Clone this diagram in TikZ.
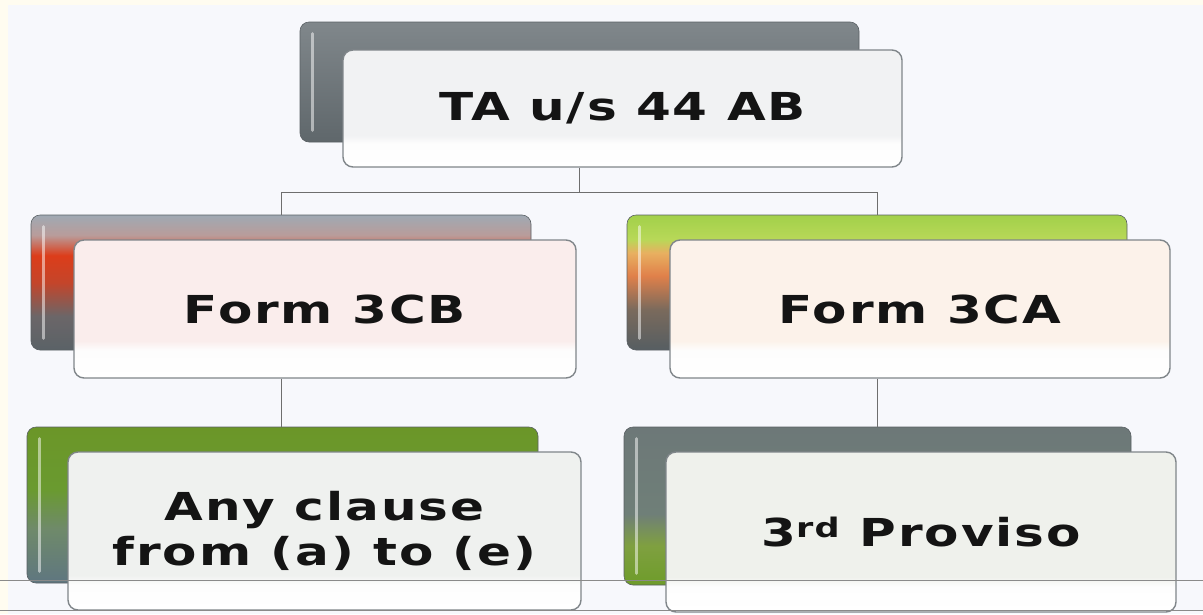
\documentclass[tikz,border=0pt]{standalone}
\usepackage{fontspec}
\newfontfamily\lblfont{DejaVu Sans}[FakeStretch=1.3, LetterSpace=5]

% page and line colours
\definecolor{cream}{HTML}{FFFCF0}
\definecolor{slide}{HTML}{F7F8FC}
\definecolor{linkgray}{HTML}{6E6E6E}
\definecolor{rulegray}{HTML}{8A8A8A}
\definecolor{frontedge}{HTML}{80868A}
\definecolor{backedge}{HTML}{5A6064}
\definecolor{inkc}{HTML}{141414}

% back panel colours
\definecolor{taB0}{HTML}{5F676B}
\definecolor{taB1}{HTML}{80878B}
\definecolor{cbB0}{HTML}{5A6267}
\definecolor{cbB1}{HTML}{6B6668}
\definecolor{cbB2}{HTML}{C4452A}
\definecolor{cbB3}{HTML}{DC3D1A}
\definecolor{cbB4}{HTML}{B99C9A}
\definecolor{cbB5}{HTML}{9FA9B3}
\definecolor{caB0}{HTML}{565E62}
\definecolor{caB1}{HTML}{7A6A5C}
\definecolor{caB2}{HTML}{E0804A}
\definecolor{caB3}{HTML}{E8B060}
\definecolor{caB4}{HTML}{B8D858}
\definecolor{caB5}{HTML}{A2D04A}
\definecolor{anB0}{HTML}{5F7680}
\definecolor{anB1}{HTML}{6F8A6A}
\definecolor{anB2}{HTML}{6A9A30}
\definecolor{anB3}{HTML}{6B9628}
\definecolor{prB0}{HTML}{6E9C2A}
\definecolor{prB1}{HTML}{7FA040}
\definecolor{prB2}{HTML}{6F7F78}
\definecolor{prB3}{HTML}{6D7878}

% front panel tints
\definecolor{taF}{HTML}{F1F2F3}
\definecolor{cbF}{HTML}{FAEDEC}
\definecolor{caF}{HTML}{FCF2EA}
\definecolor{anF}{HTML}{EFF1EF}
\definecolor{prF}{HTML}{EFF1EC}
\definecolor{whiteF}{HTML}{FDFDFD}

% vertical shadings: 25bp = bottom of the path, 75bp = top
\pgfdeclareverticalshading{backTA}{100bp}{color(0bp)=(taB0); color(25bp)=(taB0); color(75bp)=(taB1); color(100bp)=(taB1)}
\pgfdeclareverticalshading{back3CB}{100bp}{color(0bp)=(cbB0); color(25bp)=(cbB0); color(37.5bp)=(cbB1); color(50bp)=(cbB2); color(60bp)=(cbB3); color(67.5bp)=(cbB4); color(75bp)=(cbB5); color(100bp)=(cbB5)}
\pgfdeclareverticalshading{back3CA}{100bp}{color(0bp)=(caB0); color(25bp)=(caB0); color(40bp)=(caB1); color(52.5bp)=(caB2); color(61bp)=(caB3); color(66bp)=(caB4); color(75bp)=(caB5); color(100bp)=(caB5)}
\pgfdeclareverticalshading{backAny}{100bp}{color(0bp)=(anB0); color(25bp)=(anB0); color(42.5bp)=(anB1); color(55bp)=(anB2); color(75bp)=(anB3); color(100bp)=(anB3)}
\pgfdeclareverticalshading{backPro}{100bp}{color(0bp)=(prB0); color(25bp)=(prB0); color(37.5bp)=(prB1); color(47.5bp)=(prB2); color(75bp)=(prB3); color(100bp)=(prB3)}

\pgfdeclareverticalshading{frontTA}{100bp}{color(0bp)=(white); color(25bp)=(white); color(35bp)=(whiteF); color(38.5bp)=(taF); color(75bp)=(taF); color(100bp)=(taF)}
\pgfdeclareverticalshading{front3CB}{100bp}{color(0bp)=(white); color(25bp)=(white); color(35bp)=(whiteF); color(38.5bp)=(cbF); color(75bp)=(cbF); color(100bp)=(cbF)}
\pgfdeclareverticalshading{front3CA}{100bp}{color(0bp)=(white); color(25bp)=(white); color(35bp)=(whiteF); color(38.5bp)=(caF); color(75bp)=(caF); color(100bp)=(caF)}
\pgfdeclareverticalshading{frontAny}{100bp}{color(0bp)=(white); color(25bp)=(white); color(33bp)=(whiteF); color(36bp)=(anF); color(75bp)=(anF); color(100bp)=(anF)}
\pgfdeclareverticalshading{frontPro}{100bp}{color(0bp)=(white); color(25bp)=(white); color(33bp)=(whiteF); color(36bp)=(prF); color(75bp)=(prF); color(100bp)=(prF)}

\tikzset{
  backbox/.style={rectangle, rounded corners=9pt, draw=backedge, line width=0.6pt, inner sep=0pt},
  frontbox/.style={rectangle, rounded corners=10pt, draw=frontedge, line width=1.4pt, inner sep=0pt,
    align=center, text=inkc, font=\lblfont\bfseries\fontsize{38.5}{45}\selectfont},
  gloss/.style={draw=white, draw opacity=0.5, line width=3pt, line cap=round},
  conn/.style={draw=linkgray, line width=1pt},
  rule/.style={draw=rulegray, line width=1pt}
}

\begin{document}
\begin{tikzpicture}[x=1pt, y=-1pt]
  \useasboundingbox (0,0) rectangle (1203,614);
  \fill[cream] (0,0) rectangle (1203,614);
  \fill[slide] (8,5) rectangle (1203,614);

  % root
  \node[backbox, shading=backTA, minimum width=559pt, minimum height=120pt] (taback) at (579.5,82) {};
  \draw[gloss] ([xshift=13pt,yshift=-12pt]taback.north west) -- ([xshift=13pt,yshift=12pt]taback.south west);
  \node[frontbox, shading=frontTA, minimum width=559pt, minimum height=117pt] (tafront) at (622.5,108.5) {TA u/s 44 AB};

  % second row
  \node[backbox, shading=back3CB, minimum width=500pt, minimum height=135pt] (cbback) at (281,282.5) {};
  \draw[gloss] ([xshift=13pt,yshift=-12pt]cbback.north west) -- ([xshift=13pt,yshift=12pt]cbback.south west);
  \node[frontbox, shading=front3CB, minimum width=502pt, minimum height=138pt] (cbfront) at (325,309) {Form 3CB};

  \node[backbox, shading=back3CA, minimum width=500pt, minimum height=135pt] (caback) at (877,282.5) {};
  \draw[gloss] ([xshift=13pt,yshift=-12pt]caback.north west) -- ([xshift=13pt,yshift=12pt]caback.south west);
  \node[frontbox, shading=front3CA, minimum width=500pt, minimum height=138pt] (cafront) at (920,309) {Form 3CA};

  % third row
  \node[backbox, shading=backAny, minimum width=511pt, minimum height=156pt] (anyback) at (282.5,505) {};
  \draw[gloss] ([xshift=13pt,yshift=-12pt]anyback.north west) -- ([xshift=13pt,yshift=12pt]anyback.south west);
  \node[frontbox, shading=frontAny, minimum width=513pt, minimum height=158pt] (anyfront) at (324.5,531) {Any clause\\from (a) to (e)};

  \node[backbox, shading=backPro, minimum width=507pt, minimum height=158pt] (proback) at (877.5,506) {};
  \draw[gloss] ([xshift=13pt,yshift=-12pt]proback.north west) -- ([xshift=13pt,yshift=12pt]proback.south west);
  \node[frontbox, shading=frontPro, minimum width=510pt, minimum height=160pt] (profront) at (921,532) {3\textsuperscript{rd} Proviso};

  % connectors
  \draw[conn] (taback.south |- tafront.south) -- ++(0,25) coordinate (fork);
  \draw[conn] (fork) -| (cbback.north);
  \draw[conn] (fork) -| (caback.north);
  \draw[conn] (cbback.south |- cbfront.south) -- (cbback.south |- anyback.north);
  \draw[conn] (caback.south |- cafront.south) -- (caback.south |- proback.north);

  % ruled lines across the foot
  \draw[rule] (0,580) -- (1203,580);
  \draw[rule] (0,610.5) -- (1203,610.5);
\end{tikzpicture}
\end{document}
